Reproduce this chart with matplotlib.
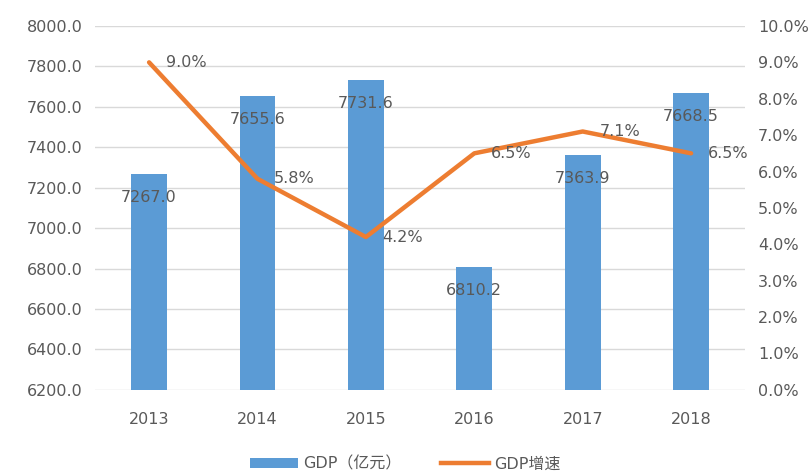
import matplotlib
matplotlib.use("Agg")
import matplotlib.pyplot as plt
from matplotlib.patches import Patch
from matplotlib.lines import Line2D

plt.rcParams['font.family'] = ['DejaVu Sans', 'Noto Sans CJK SC']

years = ["2013", "2014", "2015", "2016", "2017", "2018"]
gdp = [7267.0, 7655.6, 7731.6, 6810.2, 7363.9, 7668.5]
growth = [9.0, 5.8, 4.2, 6.5, 7.1, 6.5]

blue = "#5B9BD5"
orange = "#ED7D31"
txt = "#595959"

fig = plt.figure(figsize=(8.11, 4.72), dpi=100)
ax = fig.add_axes([0.117, 0.174, 0.802, 0.771])
ax2 = ax.twinx()

x = list(range(len(years)))
ax.bar(x, gdp, width=0.33, color=blue, zorder=2)
ax.set_ylim(6200, 8000)
ax.set_yticks([6200 + 200 * i for i in range(10)])
ax.set_yticklabels([f"{6200 + 200 * i:.1f}" for i in range(10)])
ax.set_xlim(-0.5, len(years) - 0.5)
ax.set_xticks(x)
ax.set_xticklabels(years)
ax.grid(axis='y', color="#D9D9D9", linewidth=1, zorder=0)
ax.set_axisbelow(True)

ax2.plot(x, growth, color=orange, linewidth=3.2, solid_capstyle='round', zorder=3)
ax2.set_ylim(0, 10)
ax2.set_yticks(range(0, 11))
ax2.set_yticklabels([f"{v:.1f}%" for v in range(0, 11)])

for a in (ax, ax2):
    for s in a.spines.values():
        s.set_visible(False)
    a.tick_params(length=0, labelsize=11.5, colors=txt, pad=9)
ax.tick_params(axis='x', pad=16)

for xi, v in zip(x, gdp):
    ax.annotate(f"{v:.1f}", (xi, v), xytext=(0, -17), textcoords='offset points',
                ha='center', va='center', fontsize=11.5, color=txt, zorder=4)
for xi, v in zip(x, growth):
    ax2.annotate(f"{v:.1f}%", (xi, v), xytext=(12, 0), textcoords='offset points',
                 ha='left', va='center', fontsize=11.5, color=txt, zorder=4)

handles = [Patch(facecolor=blue, edgecolor='none'),
           Line2D([0], [0], color=orange, linewidth=3.2)]
fig.legend(handles, ["GDP（亿元）", "GDP增速"], loc='lower center',
           bbox_to_anchor=(0.5, -0.03), ncol=2, frameon=False, fontsize=11.5,
           labelcolor=txt, handlelength=3.0, handleheight=0.6, columnspacing=2.5,
           handletextpad=0.3)

fig.savefig("out.png", dpi=100)
